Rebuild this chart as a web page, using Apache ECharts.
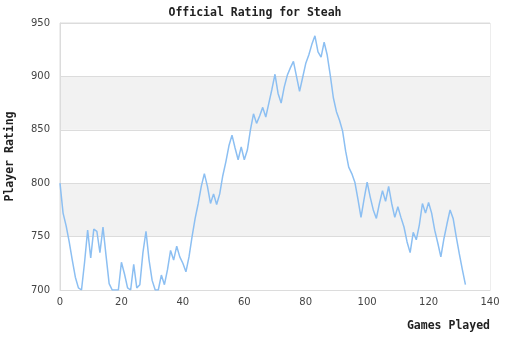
<!DOCTYPE html>
<html>
<head>
<meta charset="utf-8">
<script src="https://cdn.jsdelivr.net/npm/echarts@6/dist/echarts.min.js"></script>
<style>
  html, body { margin: 0; padding: 0; background: #fff; }
  #chart { width: 510px; height: 340px; }
</style>
</head>
<body>
<div id="chart"></div>
<script>
// Rating after each game played (game 0 = starting rating)
const ratings = [
  800, 772, 760, 745, 728, 712, 702, 700, 726, 756,
  730, 757, 755, 735, 759, 732, 706, 700, 700, 700,
  726, 715, 702, 700, 724, 702, 705, 735, 755, 728,
  709, 700, 700, 714, 705, 719, 737, 728, 741, 731,
  725, 717, 731, 750, 767, 781, 797, 809, 797, 781,
  790, 780, 790, 807, 820, 835, 845, 833, 822, 834,
  822, 831, 850, 865, 856, 863, 871, 862, 875, 888,
  902, 884, 875, 890, 901, 908, 914, 900, 886, 899,
  912, 920, 930, 938, 923, 918, 932, 920, 901, 880,
  867, 859, 849, 830, 815, 809, 801, 785, 768, 785,
  801, 787, 775, 767, 781, 793, 783, 797, 781, 768,
  778, 768, 759, 745, 735, 754, 747, 761, 781, 772,
  782, 772, 756, 744, 731, 748, 762, 775, 767, 750,
  734, 719, 705
];
const games = ratings.map((r, i) => [i, r]);

const titleText = 'Official Rating for Steah';
const xName = 'Games Played';
const yName = 'Player Rating';
const xRange = { min: 0, max: 140, step: 20 };
const yRange = { min: 700, max: 950, step: 50 };

const monoBold = { fontFamily: 'DejaVu Sans Mono', fontWeight: 'bold', fontSize: 11.5, color: '#222' };
const gridLine = '#dcdcdc';

const chart = echarts.init(document.getElementById('chart'), null, { renderer: 'canvas' });
chart.setOption({
  animation: false,
  backgroundColor: '#fff',
  title: {
    text: titleText,
    left: 'center',
    top: 2,
    textStyle: monoBold
  },
  grid: {
    left: 60, right: 20, top: 23, bottom: 50,
    containLabel: false,
    outerBoundsMode: 'none',
    show: true, borderColor: gridLine, borderWidth: 1
  },
  xAxis: {
    type: 'value',
    min: xRange.min, max: xRange.max, interval: xRange.step,
    name: xName,
    nameLocation: 'end',
    nameGap: 0,
    nameTextStyle: Object.assign({}, monoBold, { align: 'right', verticalAlign: 'top', padding: [30, 0, 0, 0] }),
    axisLine: { show: true, lineStyle: { color: gridLine } },
    axisTick: { show: false },
    axisLabel: { color: '#444', fontFamily: 'DejaVu Sans', fontSize: 10, margin: 7 },
    splitLine: { show: false }
  },
  yAxis: {
    type: 'value',
    min: yRange.min, max: yRange.max, interval: yRange.step,
    name: yName,
    nameLocation: 'middle',
    nameGap: 44,
    nameRotate: 90,
    nameTextStyle: monoBold,
    axisLine: { show: true, lineStyle: { color: gridLine } },
    axisTick: { show: false },
    axisLabel: { color: '#444', fontFamily: 'DejaVu Sans', fontSize: 10, margin: 10 },
    splitLine: { show: true, lineStyle: { color: gridLine } },
    splitArea: { show: true, areaStyle: { color: ['#ffffff', '#f2f2f2'] } }
  },
  series: [{
    type: 'line',
    data: games,
    showSymbol: false,
    lineStyle: { color: '#8cbff2', width: 1.5 },
    itemStyle: { color: '#8cbff2' }
  }]
});
</script>
</body>
</html>
